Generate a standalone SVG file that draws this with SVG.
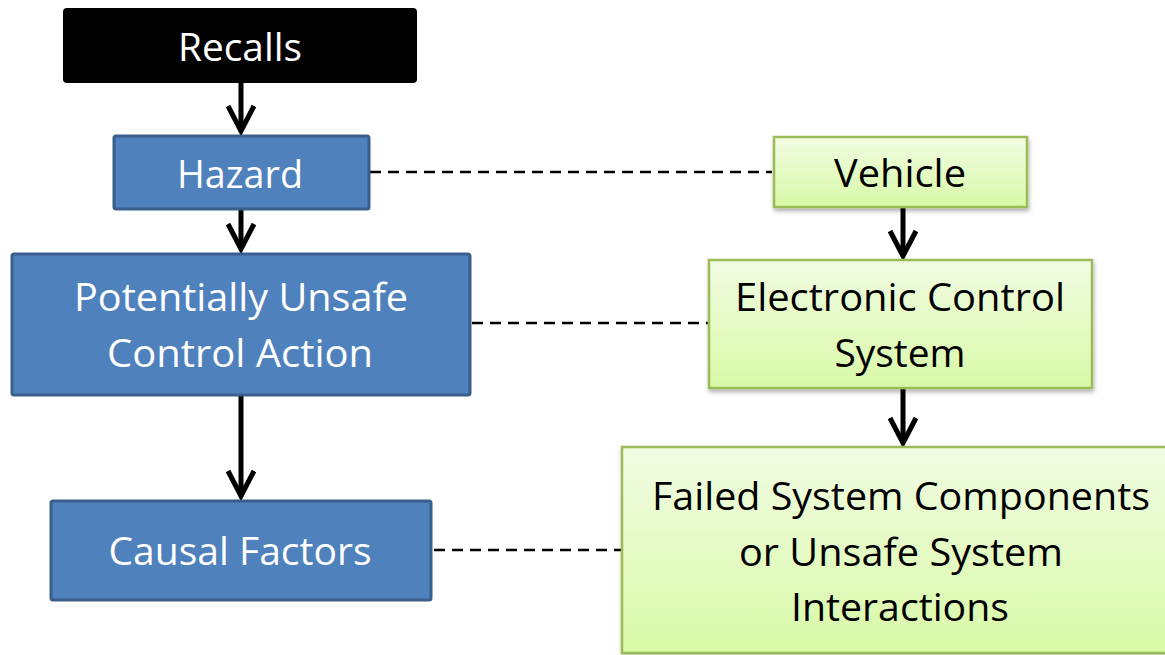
<svg xmlns="http://www.w3.org/2000/svg" width="1165" height="655" viewBox="0 0 1165 655">
  <style>
    .blue { fill: #4F81BD; stroke: #3A5F8C; stroke-width: 3; }
    .green { fill: url(#greenFill); stroke: #9BBB59; stroke-width: 2.5; filter: url(#shadow); }
    .black { fill: #000000; }
    .lbl { font-family: "Open Sans", "Liberation Sans", sans-serif; font-size: 38px; text-anchor: middle; }
    .light { fill: #FFFFFF; }
    .dark { fill: #000000; }
    .flow { stroke: #000000; stroke-width: 5; fill: none; marker-end: url(#chev); }
    .link { stroke: #000000; stroke-width: 2.5; fill: none; stroke-dasharray: 11 7; }
  </style>
  <defs>
    <linearGradient id="greenFill" x1="0" y1="0" x2="0" y2="1">
      <stop offset="0" stop-color="#F1FCE3"/>
      <stop offset="1" stop-color="#D8F9A7"/>
    </linearGradient>
    <filter id="shadow" x="-10%" y="-10%" width="120%" height="130%">
      <feDropShadow dx="1" dy="3" stdDeviation="2" flood-color="#000000" flood-opacity="0.3"/>
    </filter>
    <marker id="chev" viewBox="-30 -18 34 36" markerWidth="34" markerHeight="36" refX="0" refY="0" orient="auto" markerUnits="userSpaceOnUse">
      <path d="M-25,-13 L0,0 L-25,13" stroke="#000000" stroke-width="5" fill="none" stroke-linejoin="miter"/>
    </marker>
  </defs>

  <!-- connectors -->
  <g id="connectors">
    <line class="flow" x1="241" y1="82" x2="241" y2="131"/>
    <line class="flow" x1="241" y1="209" x2="241" y2="249"/>
    <line class="flow" x1="241" y1="395" x2="241" y2="496"/>
    <line class="flow" x1="903" y1="207" x2="903" y2="256"/>
    <line class="flow" x1="903" y1="388" x2="903" y2="443"/>
    <line class="link" x1="370" y1="172" x2="772" y2="172"/>
    <line class="link" x1="472" y1="323" x2="708" y2="323"/>
    <line class="link" x1="434" y1="550" x2="621" y2="550"/>
  </g>

  <!-- left column -->
  <g id="recalls">
    <rect class="black" x="63" y="8" width="354" height="75" rx="4"/>
    <text class="lbl light" x="240" y="61" textLength="124" lengthAdjust="spacingAndGlyphs">Recalls</text>
  </g>
  <g id="hazard">
    <rect class="blue" x="114" y="136" width="255" height="73" rx="2"/>
    <text class="lbl light" x="240" y="188" textLength="126" lengthAdjust="spacingAndGlyphs">Hazard</text>
  </g>
  <g id="unsafe-control-action">
    <rect class="blue" x="12" y="254" width="458" height="141" rx="2"/>
    <text class="lbl light" x="241" y="311" textLength="334" lengthAdjust="spacingAndGlyphs">Potentially Unsafe</text>
    <text class="lbl light" x="240" y="367" textLength="266" lengthAdjust="spacingAndGlyphs">Control Action</text>
  </g>
  <g id="causal-factors">
    <rect class="blue" x="51" y="501" width="380" height="99" rx="2"/>
    <text class="lbl light" x="240" y="565" textLength="263" lengthAdjust="spacingAndGlyphs">Causal Factors</text>
  </g>

  <!-- right column -->
  <g id="vehicle">
    <rect class="green" x="774" y="137" width="253" height="70"/>
    <text class="lbl dark" x="900" y="187" textLength="132" lengthAdjust="spacingAndGlyphs">Vehicle</text>
  </g>
  <g id="electronic-control-system">
    <rect class="green" x="709" y="260" width="383" height="128"/>
    <text class="lbl dark" x="900" y="311" textLength="330" lengthAdjust="spacingAndGlyphs">Electronic Control</text>
    <text class="lbl dark" x="900" y="367" textLength="131" lengthAdjust="spacingAndGlyphs">System</text>
  </g>
  <g id="failed-components">
    <rect class="green" x="622" y="447" width="560" height="206"/>
    <text class="lbl dark" x="901" y="510" textLength="498" lengthAdjust="spacingAndGlyphs">Failed System Components</text>
    <text class="lbl dark" x="901" y="566" textLength="324" lengthAdjust="spacingAndGlyphs">or Unsafe System</text>
    <text class="lbl dark" x="900" y="621" textLength="218" lengthAdjust="spacingAndGlyphs">Interactions</text>
  </g>
</svg>
